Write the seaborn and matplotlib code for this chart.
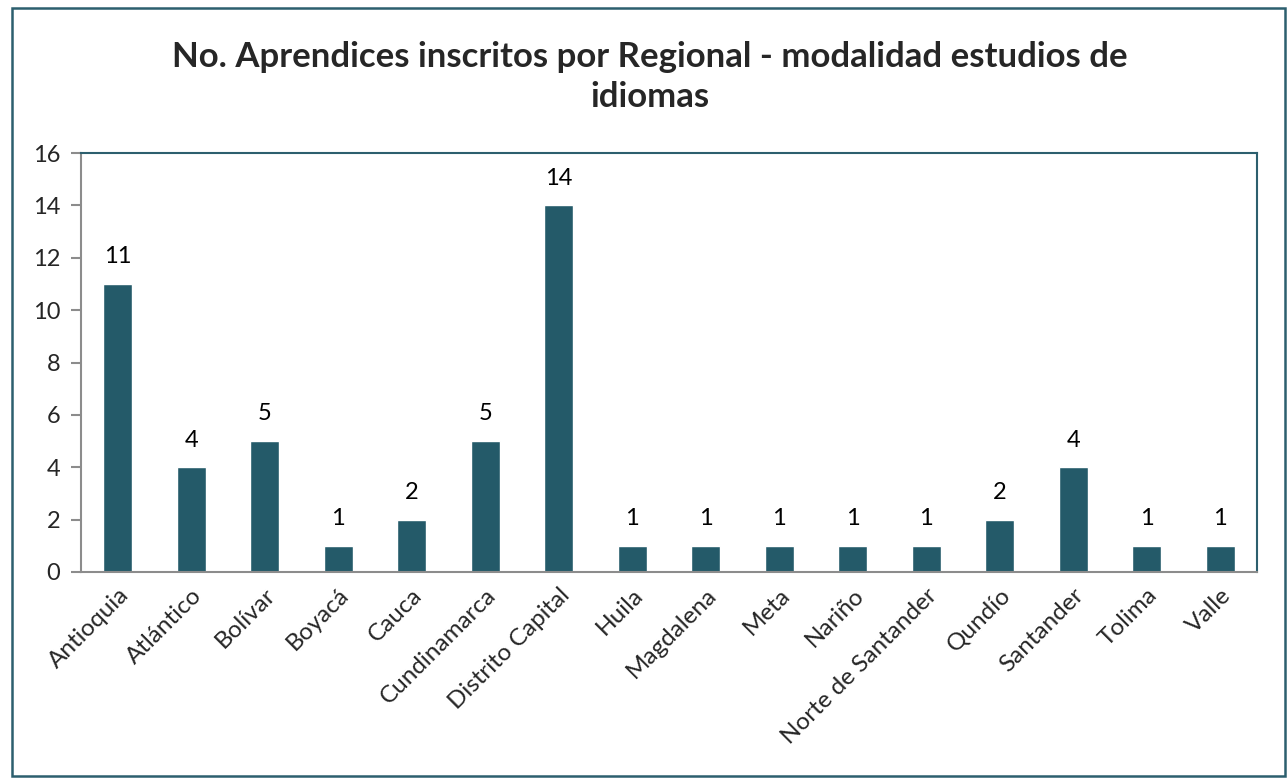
import matplotlib.pyplot as plt
import seaborn as sns
import pandas as pd
from matplotlib.patches import Rectangle

regionales = ['Antioquia', 'Atlántico', 'Bolívar', 'Boyacá', 'Cauca', 'Cundinamarca',
              'Distrito Capital', 'Huila', 'Magdalena', 'Meta', 'Nariño',
              'Norte de Santander', 'Qundío', 'Santander', 'Tolima', 'Valle']
aprendices = [11, 4, 5, 1, 2, 5, 14, 1, 1, 1, 1, 1, 2, 4, 1, 1]

df = pd.DataFrame({'regional': regionales, 'aprendices': aprendices})

sns.set_style('white')
plt.rcParams['font.family'] = ['Lato', 'DejaVu Sans']

bar_color = '#245a69'
frame_color = '#2c5f6e'
axis_gray = '#8c8c8c'

fig = plt.figure(figsize=(12.87, 7.79), dpi=100)
ax = fig.add_axes([81 / 1287, 1 - 572 / 779, (1257 - 81) / 1287, (572 - 153) / 779])

sns.barplot(data=df, x='regional', y='aprendices', color=bar_color, width=0.4,
            saturation=1, ax=ax)

for cont in ax.containers:
    ax.bar_label(cont, padding=12, fontsize=17, color='black')

ax.set_ylim(0, 16)
ax.set_yticks(range(0, 17, 2))
ax.set_xlim(-0.5, len(regionales) - 0.5)
ax.set_xlabel('')
ax.set_ylabel('')

# ticks at category boundaries
ax.set_xticks([i - 0.5 for i in range(len(regionales) + 1)], minor=True)
ax.tick_params(axis='x', which='major', length=0, labelsize=17.5, pad=9)
ax.tick_params(axis='x', which='minor', length=7, width=1.5, color=axis_gray, direction='out')
ax.tick_params(axis='y', length=7, width=1.5, color=axis_gray, labelsize=17, pad=8,
               direction='out', left=True)
for lab in ax.get_xticklabels():
    lab.set_rotation(45)
    lab.set_ha('right')
    lab.set_rotation_mode('anchor')

for side in ['left', 'bottom']:
    ax.spines[side].set_color(axis_gray)
    ax.spines[side].set_linewidth(1.5)
for side in ['top', 'right']:
    ax.spines[side].set_color(frame_color)
    ax.spines[side].set_linewidth(1.5)

# outer chart border
fig.patches.append(Rectangle((12 / 1287, 3 / 779), 1273 / 1287, 768 / 779,
                             transform=fig.transFigure, fill=False,
                             edgecolor=frame_color, linewidth=1.8))

fig.text(0.505, 1 - 77 / 779, 'No. Aprendices inscritos por Regional - modalidad estudios de\nidiomas',
         ha='center', va='center', fontsize=25, fontweight='bold', linespacing=1.32)

fig.savefig('out.png', dpi=100)
